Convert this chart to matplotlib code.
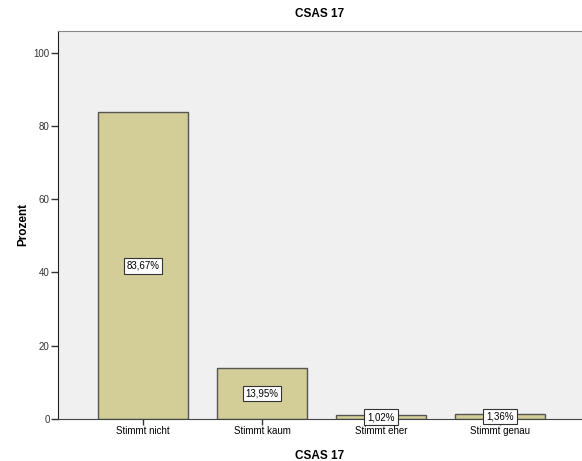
import matplotlib
matplotlib.use("Agg")
import matplotlib.pyplot as plt

categories = ["Stimmt nicht", "Stimmt kaum", "Stimmt eher", "Stimmt genau"]
percent = [83.67, 13.95, 1.02, 1.36]
labels = ["83,67%", "13,95%", "1,02%", "1,36%"]
yticks = [0, 20, 40, 60, 80, 100]

plt.rcParams["font.family"] = ["Liberation Sans", "DejaVu Sans"]

fig = plt.figure(figsize=(5.82, 4.61), dpi=100)
ax = fig.add_axes([0.0997, 0.0911, 0.9003, 0.8417])
ax.set_facecolor("#f0f0f0")

x = list(range(len(categories)))
ax.bar(x, percent, width=0.756, color="#d3ce97", edgecolor="#555555", linewidth=1.0, zorder=2)

for xi, v, lab in zip(x, percent, labels):
    ax.text(xi, v / 2, lab, ha="center", va="center", fontsize=7, zorder=3,
            bbox=dict(boxstyle="square,pad=0.3", facecolor="white", edgecolor="#333333", linewidth=0.8))

ax.set_xlim(-0.714, 3.689)
ax.set_ylim(0, 105.9)
ax.set_xticks(x)
ax.set_xticklabels(categories, fontsize=7)
ax.set_yticks(yticks)
ax.set_yticklabels([str(t) for t in yticks], fontsize=7, color="#333333")
ax.tick_params(axis="y", direction="out", length=5, width=1, color="#333333", pad=1)
ax.tick_params(axis="x", direction="out", length=4, width=1, color="#333333", pad=1)

ax.spines["top"].set_color("#888888")
ax.spines["right"].set_visible(False)
ax.spines["left"].set_color("#222222")
ax.spines["bottom"].set_color("#444444")

ax.set_ylabel("Prozent", fontsize=8.5, fontweight="bold", labelpad=3)
ax.set_xlabel("CSAS 17", fontsize=8.5, fontweight="bold", labelpad=10)
ax.set_title("CSAS 17", fontsize=8.5, fontweight="bold", pad=10)

fig.savefig("out.png", dpi=100)
